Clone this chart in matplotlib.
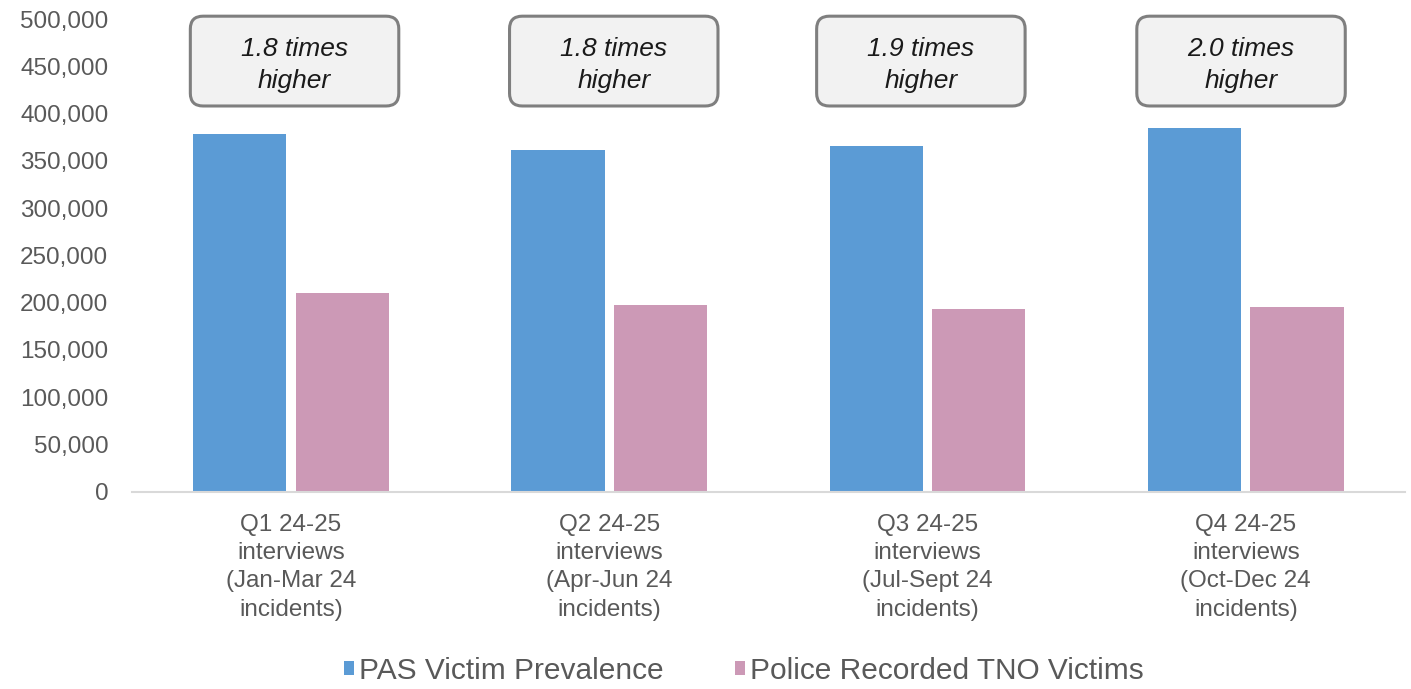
import numpy as np
import matplotlib.pyplot as plt
from matplotlib.patches import FancyBboxPatch

plt.rcParams['font.family'] = ['Liberation Sans', 'DejaVu Sans']

# data
categories = ['Q1 24-25\ninterviews\n(Jan-Mar 24\nincidents)',
              'Q2 24-25\ninterviews\n(Apr-Jun 24\nincidents)',
              'Q3 24-25\ninterviews\n(Jul-Sept 24\nincidents)',
              'Q4 24-25\ninterviews\n(Oct-Dec 24\nincidents)']
pas_victims = [378000, 361000, 366000, 385000]
police_tno = [210000, 197500, 193000, 195000]
ratio_labels = ['1.8 times\nhigher', '1.8 times\nhigher', '1.9 times\nhigher', '2.0 times\nhigher']

grey = '#595959'
fig = plt.figure(figsize=(14.11, 6.89), dpi=100)
ax = fig.add_axes([0.0935, 0.2864, 0.9022, 0.686])

x = np.arange(len(categories))
w = 0.293
off = 0.161
ax.bar(x - off, pas_victims, w, color='#5B9BD5', label='PAS Victim Prevalence')
ax.bar(x + off, police_tno, w, color='#CC99B6', label='Police Recorded TNO Victims')

ax.set_xlim(-0.5, 3.5)
ax.set_ylim(0, 500000)
ax.set_yticks(np.arange(0, 500001, 50000))
ax.yaxis.set_major_formatter(plt.FuncFormatter(lambda v, p: f'{int(v):,}'))
ax.set_xticks(x)
ax.set_xticklabels(categories, linespacing=1.37)
ax.tick_params(axis='y', length=0, pad=17, labelsize=17.5, labelcolor=grey)
ax.tick_params(axis='x', length=0, pad=16, labelsize=17.5, labelcolor=grey)
for s in ['left', 'right', 'top']:
    ax.spines[s].set_visible(False)
ax.spines['bottom'].set_color('#d9d9d9')
ax.spines['bottom'].set_linewidth(1.5)

# rounded call-out boxes above each group
inv = ax.transData.inverted()
p0 = inv.transform((0, 0))
p1 = inv.transform((1, 1))
aspect = (p1[1] - p0[1]) / (p1[0] - p0[0])
box_w = 0.655
box_lo, box_hi = 408000, 503000
box_shift = [0.011, 0.014, -0.021, -0.015]
for i, lab in enumerate(ratio_labels):
    cx = i + box_shift[i]
    box = FancyBboxPatch((cx - box_w / 2, box_lo), box_w, box_hi - box_lo,
                         boxstyle='round,pad=0,rounding_size=0.04',
                         mutation_aspect=aspect, facecolor='#f2f2f2',
                         edgecolor='#7f7f7f', linewidth=2.2, clip_on=False)
    ax.add_patch(box)
    ax.text(cx, (box_lo + box_hi) / 2 - 4000, lab, ha='center', va='center',
            fontsize=19, style='italic', color='#1a1a1a', linespacing=1.45)

fig.legend(loc='lower center', bbox_to_anchor=(0.527, -0.024), ncol=2, frameon=False,
           fontsize=21.5, labelcolor=grey, handlelength=0.35, handleheight=0.35,
           handletextpad=0.15, columnspacing=2.4, borderpad=0.2)

fig.savefig('out.png', dpi=100)
